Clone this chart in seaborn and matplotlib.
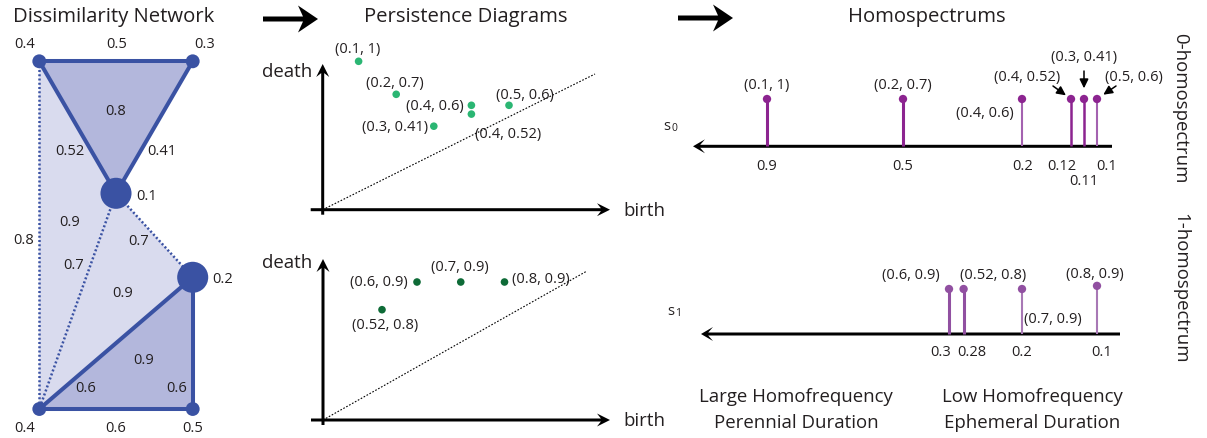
import numpy as np
import pandas as pd
import matplotlib
matplotlib.use("Agg")
import matplotlib.pyplot as plt
import seaborn as sns

# ---------------- data ----------------
# dissimilarity network
node_names = ["A", "B", "C", "D", "E", "F"]
node_values = [0.4, 0.3, 0.1, 0.2, 0.4, 0.5]
edge_pairs = [("A", "B"), ("A", "C"), ("B", "C"), ("A", "E"), ("C", "E"),
              ("C", "D"), ("E", "D"), ("D", "F"), ("E", "F")]
edge_weights = [0.5, 0.52, 0.41, 0.8, 0.7, 0.7, 0.6, 0.6, 0.6]
edge_in_filtration = [True, True, True, False, False, False, True, True, True]
triangles = [("A", "B", "C"), ("A", "C", "E"), ("C", "D", "E"), ("D", "E", "F")]
triangle_values = [0.8, 0.9, 0.9, 0.9]

# persistence diagrams (birth, death)
pd0_birth = [0.1, 0.2, 0.4, 0.4, 0.3, 0.5]
pd0_death = [1.0, 0.7, 0.6, 0.52, 0.41, 0.6]
pd1_birth = [0.6, 0.7, 0.8, 0.52]
pd1_death = [0.9, 0.9, 0.9, 0.8]

# homospectrum stem heights (homofrequency)
hs0_height = [1.0, 1.0, 1.0, 1.0, 1.0, 1.0]
hs1_height = [1.0, 1.0, 1.07, 1.0]

# ---------------- styles / layout ----------------
W, H = 1207, 439
TXT = "#231F20"
BLUE = "#3A52A3"
FILL_DARK = "#B3B7DC"
FILL_LIGHT = "#D9DBEE"
GREEN0 = "#2BB673"
GREEN1 = "#0E6B37"
PURP0 = "#8C2490"
PURP0_L = "#A462B0"
PURP1 = "#9150A1"
PURP1_L = "#A878B5"
HEAD = 14.6
BIG = 13.4
SMALL = 10.5

sns.set_theme(style="white")
plt.rcParams["font.family"] = ["Open Sans", "DejaVu Sans"]

fig = plt.figure(figsize=(W / 100, H / 100), dpi=100)
bg = fig.add_axes([0, 0, 1, 1])
bg.set_xlim(0, W)
bg.set_ylim(H, 0)
bg.axis("off")


def px_axes(l, t, r, b):
    ax = fig.add_axes([l / W, 1 - b / H, (r - l) / W, (b - t) / H])
    ax.patch.set_alpha(0)
    ax.axis("off")
    return ax


def arrow(x0, y0, x1, y1, w, hw, hl, oh, color="black"):
    bg.arrow(x0, y0, x1 - x0, y1 - y0, width=w, head_width=hw, head_length=hl,
             overhang=oh, length_includes_head=True, color=color, lw=0)


# ---------------- headers ----------------
bg.text(114, 17, "Dissimilarity Network", ha="center", va="center", fontsize=HEAD, color=TXT)
bg.text(465.5, 17, "Persistence Diagrams", ha="center", va="center", fontsize=HEAD, color=TXT)
bg.text(927, 17, "Homospectrums", ha="center", va="center", fontsize=HEAD, color=TXT)
arrow(263, 20, 318, 20, 5, 27, 20, 0.25)
arrow(678, 19, 733, 19, 5, 27, 20, 0.25)

# ---------------- network ----------------
node_pos = {"A": (39.3, 62.3), "B": (192.7, 62.3), "C": (116, 194.3),
            "D": (192.7, 278.3), "E": (39.3, 410), "F": (192.7, 410)}
node_size = {"A": 100, "B": 100, "C": 500, "D": 500, "E": 100, "F": 100}
node_lab = {"A": (25, 45), "B": (205, 45), "C": (147, 197),
            "D": (223, 280), "E": (25, 429), "F": (193, 429)}
edge_lab = [(116.7, 45), (70, 152), (162, 152), (23.3, 241), (74, 266),
            (138.3, 242), (86, 388.3), (176.7, 388.3), (116, 429)]
tri_lab = [(116, 112), (70, 223), (122.7, 294), (143.3, 361)]
tri_fill = [FILL_DARK, None, None, FILL_DARK]

light_poly = [node_pos[n] for n in ("A", "C", "D", "E")]
bg.fill([p[0] for p in light_poly], [p[1] for p in light_poly], color=FILL_LIGHT, lw=0, zorder=1)
for tri, fc in zip(triangles, tri_fill):
    if fc:
        pts = [node_pos[n] for n in tri]
        bg.fill([p[0] for p in pts], [p[1] for p in pts], color=fc, lw=0, zorder=1.5)

for (a, b), solid in zip(edge_pairs, edge_in_filtration):
    (x0, y0), (x1, y1) = node_pos[a], node_pos[b]
    if solid:
        bg.plot([x0, x1], [y0, y1], color=BLUE, lw=2.9, solid_capstyle="butt", zorder=3)
    else:
        bg.plot([x0, x1], [y0, y1], color=BLUE, lw=1.8, ls=(0, (0.8, 0.9)), zorder=2)

net_df = pd.DataFrame({"name": node_names, "value": node_values,
                       "x": [node_pos[n][0] for n in node_names],
                       "y": [node_pos[n][1] for n in node_names],
                       "size": [node_size[n] for n in node_names]})
bg.scatter(net_df["x"], net_df["y"], s=net_df["size"], color=BLUE, lw=0, zorder=4)

for n, v in zip(node_names, node_values):
    bg.text(*node_lab[n], f"{v:g}", ha="center", va="center", fontsize=SMALL, color=TXT, zorder=5)
for (x, y), w in zip(edge_lab, edge_weights):
    bg.text(x, y, f"{w:g}", ha="center", va="center", fontsize=SMALL, color=TXT, zorder=5)
for (x, y), v in zip(tri_lab, triangle_values):
    bg.text(x, y, f"{v:g}", ha="center", va="center", fontsize=SMALL, color=TXT, zorder=5)

# ---------------- persistence diagrams ----------------
def pd_frame(ox, oy, x_end, y_top, diag_end, ylab):
    arrow(ox - 12, oy, x_end, oy, 3, 13, 13, 0.3)
    arrow(ox, oy + 5, ox, y_top, 3, 13, 13, 0.3)
    bg.plot([ox, diag_end[0]], [oy, diag_end[1]], color="black", lw=0.8, ls=(0, (1.5, 1.5)))
    bg.text(312, ylab, "death", ha="right", va="center", fontsize=BIG, color=TXT)
    bg.text(623, oy, "birth", ha="left", va="center", fontsize=BIG, color=TXT)


pd_frame(322.7, 210.7, 610, 65, (595, 75), 72)
pd_frame(323, 421, 610, 260, (587, 272), 263)

# panel 0: birth px = 321 + 376 b ; death px = 172.3 - 110 d
ax_pd0 = px_axes(300, 55, 620, 220)
sns.scatterplot(x=pd0_birth, y=pd0_death, ax=ax_pd0, color=GREEN0, s=30,
                edgecolor="none", legend=False)
ax_pd0.set_xlim((300 - 321) / 376, (620 - 321) / 376)
ax_pd0.set_ylim((172.3 - 220) / 110, (172.3 - 55) / 110)
ax_pd0.axis("off")
pd0_lab = [((-1, 13), "center"), ((-1, 12), "center"), ((-8, 0), "right"),
           ((37, -19), "center"), ((-6, 0), "right"), ((16, 11), "center")]
for b, d, (off, ha) in zip(pd0_birth, pd0_death, pd0_lab):
    ax_pd0.annotate(f"({b:g}, {d:g})", (b, d), xytext=off, textcoords="offset pixels",
                    ha=ha, va="center", fontsize=SMALL, color=TXT)

# panel 1: birth px = 154.5 + 437.5 b ; death px = 532.3 - 277 d
ax_pd1 = px_axes(300, 245, 620, 430)
sns.scatterplot(x=pd1_birth, y=pd1_death, ax=ax_pd1, color=GREEN1, s=30,
                edgecolor="none", legend=False)
ax_pd1.set_xlim((300 - 154.5) / 437.5, (620 - 154.5) / 437.5)
ax_pd1.set_ylim((532.3 - 430) / 277, (532.3 - 245) / 277)
ax_pd1.axis("off")
pd1_lab = [((-9, 0), "right"), ((-1, 15), "center"), ((8, 3), "left"), ((3, -15), "center")]
for b, d, (off, ha) in zip(pd1_birth, pd1_death, pd1_lab):
    ax_pd1.annotate(f"({b:g}, {d:g})", (b, d), xytext=off, textcoords="offset pixels",
                    ha=ha, va="center", fontsize=SMALL, color=TXT)

# ---------------- homospectrums ----------------
# schematic (non-uniform) duration axis: piecewise-linear scale
knot_d = np.array([0.05, 0.1, 0.12, 0.2, 0.3, 0.5, 0.9, 2.0])
knot_u = np.array([-65, 0, 26, 75, 148, 194, 330, 704])
X0 = 1097  # pixel of the 0.1 knot


def fwd(d):
    return np.interp(np.asarray(d, dtype=float), knot_d, knot_u)


def inv(u):
    return np.interp(np.asarray(u, dtype=float), knot_u, knot_d)


def spectrum(top, bottom, axis_y, unit_px, births, deaths, heights, lws, cols,
             dot_col, lab_offs, tick_offs):
    dur = np.round(np.array(deaths) - np.array(births), 2)
    ax = px_axes(680, top, 1130, bottom)
    ax.set_xscale("function", functions=(fwd, inv))
    ax.vlines(dur, 0, heights, colors=cols, linewidths=lws, zorder=2)
    sns.scatterplot(x=dur, y=heights, ax=ax, color=dot_col, s=36, edgecolor="none",
                    legend=False, zorder=3)
    ax.set_xlim(inv(X0 - 680), inv(X0 - 1130))
    ax.set_ylim((axis_y - bottom) / unit_px, (axis_y - top) / unit_px)
    ax.axis("off")
    for d, h, b, de, (off, ha, arr) in zip(dur, heights, births, deaths, lab_offs):
        ax.annotate(f"({b:g}, {de:g})", (d, h), xytext=off, textcoords="offset pixels",
                    ha=ha, va="center", fontsize=SMALL, color=TXT)
        if arr is not None:
            start, shrink = arr
            ax.annotate("", (d, h), xytext=start, textcoords="offset pixels",
                        arrowprops=dict(arrowstyle="-|>,head_length=0.45,head_width=0.22",
                                        color="black", lw=1.1, shrinkA=0, shrinkB=shrink),
                        annotation_clip=False)
    for d, (dx, dy) in zip(dur, tick_offs):
        ax.annotate(f"{d:g}", (d, 0), xytext=(dx, dy), textcoords="offset pixels",
                    ha="center", va="center", fontsize=SMALL, color=TXT)
    return ax


lw0 = [2.2, 2.2, 1.5, 1.8, 1.8, 1.5]
col0 = [PURP0, PURP0, PURP0_L, PURP0, PURP0, PURP0_L]
lab0 = [((0, 14), "center", None), ((0, 14), "center", None), ((-8, -13), "right", None),
        ((-44, 22), "center", ((-18, 13), 4.5)), ((0, 42), "center", ((0, 28), 7.7)),
        ((37, 22), "center", ((19, 13), 5.5))]
tick0 = [(0, -19), (0, -19), (1, -19), (-9, -19), (0, -34), (10, -19)]
spectrum(50, 190, 147.3, 47.3, pd0_birth, pd0_death, hs0_height, lw0, col0, PURP0, lab0, tick0)

lw1 = [2.2, 1.5, 1.5, 2.2]
col1 = [PURP1, PURP1_L, PURP1_L, PURP1]
lab1 = [((-38, 15), "center", None), ((31, -29), "center", None),
        ((-2, 12), "center", None), ((30, 15), "center", None)]
tick1 = [(-8, -18), (0, -18), (5, -18), (8, -18)]
spectrum(255, 370, 335, 45, pd1_birth, pd1_death, hs1_height, lw1, col1, PURP1, lab1, tick1)

arrow(1112, 147.3, 693, 147.3, 3, 14, 12, 0.4)
arrow(1120, 335, 701, 335, 3, 14, 12, 0.4)

bg.text(670, 127, "s", ha="right", va="center", fontsize=SMALL, color=TXT)
bg.text(671, 129, "0", ha="left", va="center", fontsize=7.5, color=TXT)
bg.text(674, 312, "s", ha="right", va="center", fontsize=SMALL, color=TXT)
bg.text(675, 314, "1", ha="left", va="center", fontsize=7.5, color=TXT)

bg.text(1180, 108, "0-homospectrum", rotation=-90, ha="center", va="center", fontsize=BIG, color=TXT)
bg.text(1180, 288, "1-homospectrum", rotation=-90, ha="center", va="center", fontsize=BIG, color=TXT)

bg.text(796, 397, "Large Homofrequency", ha="center", va="center", fontsize=BIG, color=TXT)
bg.text(796, 423, "Perennial Duration", ha="center", va="center", fontsize=BIG, color=TXT)
bg.text(1032, 397, "Low Homofrequency", ha="center", va="center", fontsize=BIG, color=TXT)
bg.text(1032, 423, "Ephemeral Duration", ha="center", va="center", fontsize=BIG, color=TXT)

fig.savefig("out.png", dpi=100)
